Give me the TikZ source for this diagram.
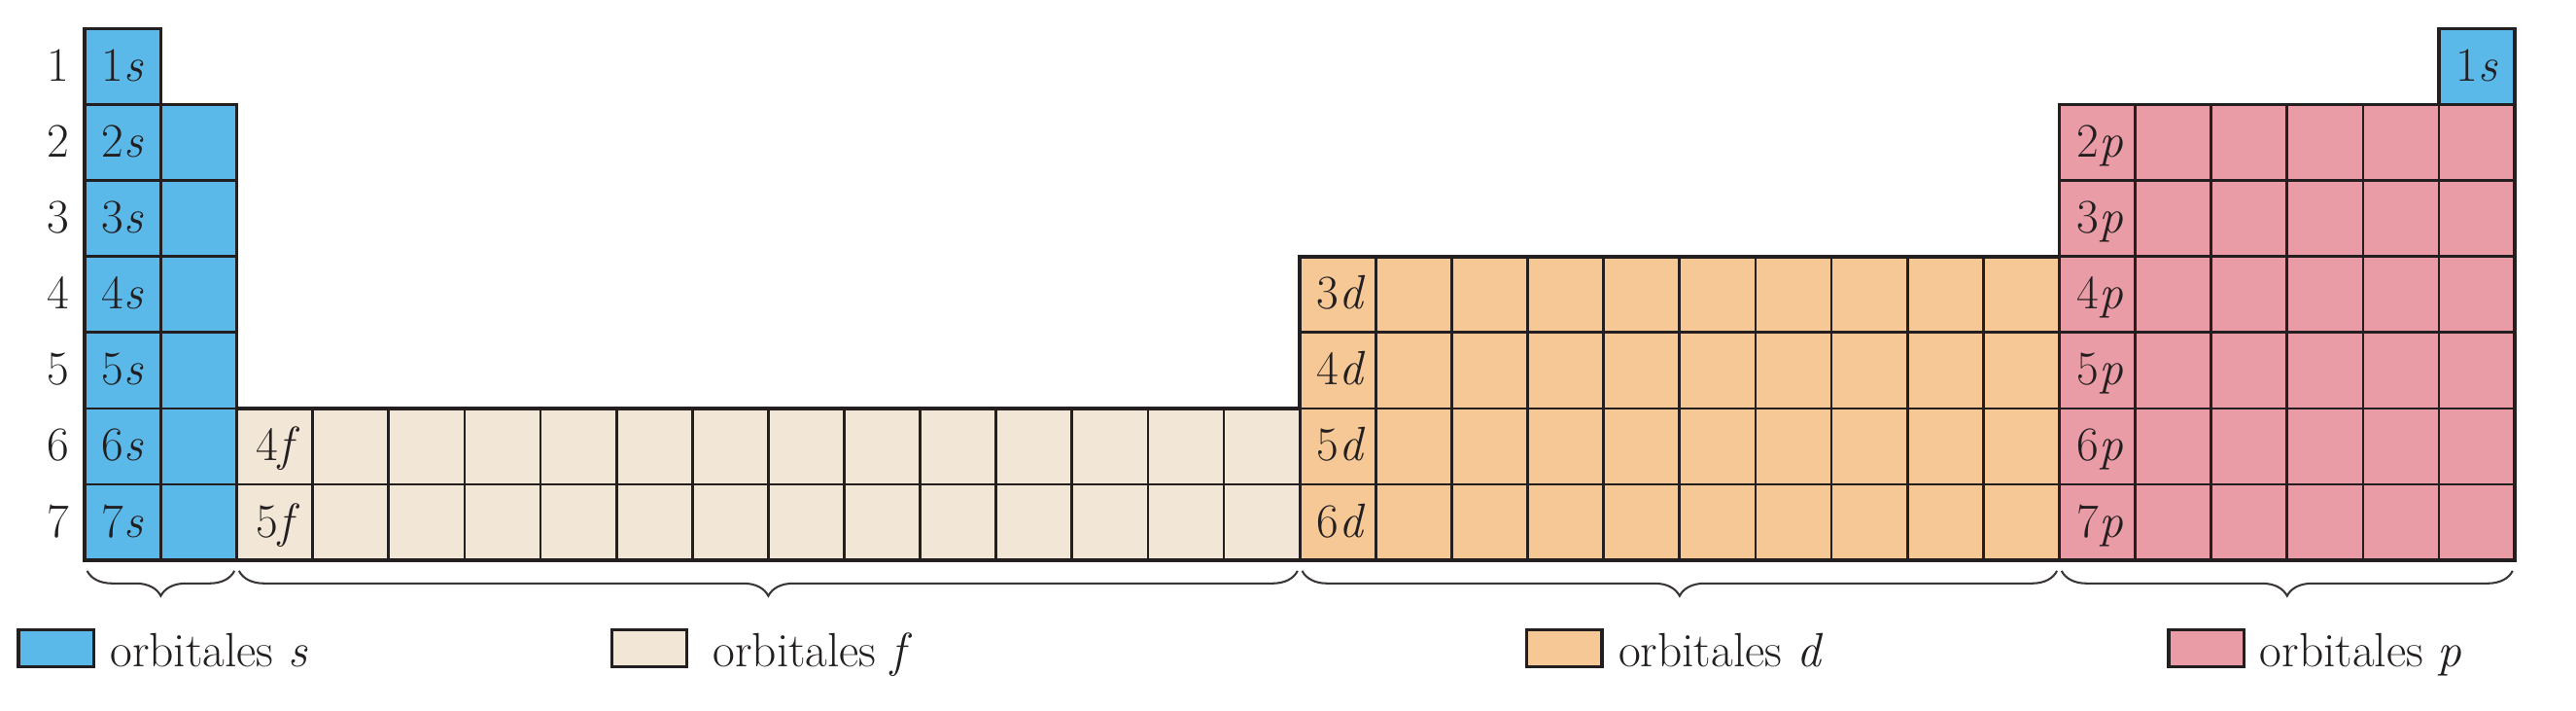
\documentclass[tikz,border=0pt]{standalone}
\usepackage{fontspec}
\usetikzlibrary{decorations.pathreplacing}
\definecolor{sblue}{HTML}{5BB9EA}
\definecolor{fbeige}{HTML}{F2E7D7}
\definecolor{dorange}{HTML}{F5C895}
\definecolor{ppink}{HTML}{E99CA6}
\definecolor{ink}{HTML}{231F20}
\begin{document}
\begin{tikzpicture}[x=1cm,y=1cm,
  cellgrid/.style={draw=ink, line width=1.0pt},
  outline/.style={draw=ink, line width=1.35pt, line join=miter},
  lbl/.style={anchor=base, inner sep=0pt, font=\fontsize{18}{20}\selectfont, text=ink},
  legbox/.style={draw=ink, line width=1.2pt},
  legtxt/.style={anchor=base west, inner sep=0pt, font=\fontsize{18}{20}\selectfont, text=ink},
  bracestyle/.style={draw=ink!90, line width=0.75pt, decorate, decoration={brace, mirror, amplitude=0.33cm}}]
\useasboundingbox (-1.1175,-1.969) rectangle (32.805,7.376);

% fills
\fill[sblue] (0,0) rectangle (2,6);
\fill[sblue] (0,6) rectangle (1,7);
\fill[sblue] (31,6) rectangle (32,7);
\fill[fbeige] (2,0) rectangle (16,2);
\fill[dorange] (16,0) rectangle (26,4);
\fill[ppink] (26,0) rectangle (32,6);

% grid lines
\draw[cellgrid] (0,0) grid (2,6);
\draw[cellgrid] (0,6) grid (1,7);
\draw[cellgrid] (31,6) grid (32,7);
\draw[cellgrid] (2,0) grid (16,2);
\draw[cellgrid] (16,0) grid (26,4);
\draw[cellgrid] (26,0) grid (32,6);

% outer outline
\draw[outline] (0,0) -- (32,0) -- (32,7) -- (31,7) -- (31,6) -- (26,6) -- (26,4)
  -- (16,4) -- (16,2) -- (2,2) -- (2,6) -- (1,6) -- (1,7) -- (0,7) -- cycle;

% row numbers and s labels
\foreach \r in {1,...,7}{
  \node[lbl] (row\r) at (-0.35, 7-\r+0.31) {\r};
  \node[lbl] (s\r) at (0.5, 7-\r+0.31) {\r\textit{s}};
}
\node[lbl] (sright) at (31.5, 6.31) {1\textit{s}};

% f labels
\node[lbl] (f4) at (2.54, 1.31) {4\textit{f}};
\node[lbl] (f5) at (2.54, 0.31) {5\textit{f}};

% d labels
\foreach \n/\yy in {3/3,4/2,5/1,6/0}{
  \node[lbl] (d\n) at (16.54, \yy+0.31) {\n\textit{d}};
}

% p labels
\foreach \n in {2,...,7}{
  \node[lbl] (p\n) at (26.54, 7-\n+0.31) {\n\textit{p}};
}

% braces
\coordinate (bsA) at (0.03,-0.137);  \coordinate (bsB) at (1.97,-0.137);
\coordinate (bfA) at (2.03,-0.137);  \coordinate (bfB) at (15.97,-0.137);
\coordinate (bdA) at (16.03,-0.137); \coordinate (bdB) at (25.97,-0.137);
\coordinate (bpA) at (26.03,-0.137); \coordinate (bpB) at (31.97,-0.137);
\draw[bracestyle] (bsA) -- (bsB);
\draw[bracestyle] (bfA) -- (bfB);
\draw[bracestyle] (bdA) -- (bdB);
\draw[bracestyle] (bpA) -- (bpB);

% legend
\filldraw[legbox, fill=sblue] (-0.873,-0.909) rectangle (0.117,-1.403);
\node[legtxt] (ls) at (0.329,-1.395) {orbitales \textit{s}};
\filldraw[legbox, fill=fbeige] (6.94,-0.909) rectangle (7.93,-1.403);
\node[legtxt] (lf) at (8.266,-1.395) {orbitales \textit{f}};
\filldraw[legbox, fill=dorange] (18.99,-0.909) rectangle (19.98,-1.403);
\node[legtxt] (ld) at (20.19,-1.395) {orbitales \textit{d}};
\filldraw[legbox, fill=ppink] (27.44,-0.909) rectangle (28.43,-1.403);
\node[legtxt] (lp) at (28.636,-1.395) {orbitales \textit{p}};
\end{tikzpicture}
\end{document}
